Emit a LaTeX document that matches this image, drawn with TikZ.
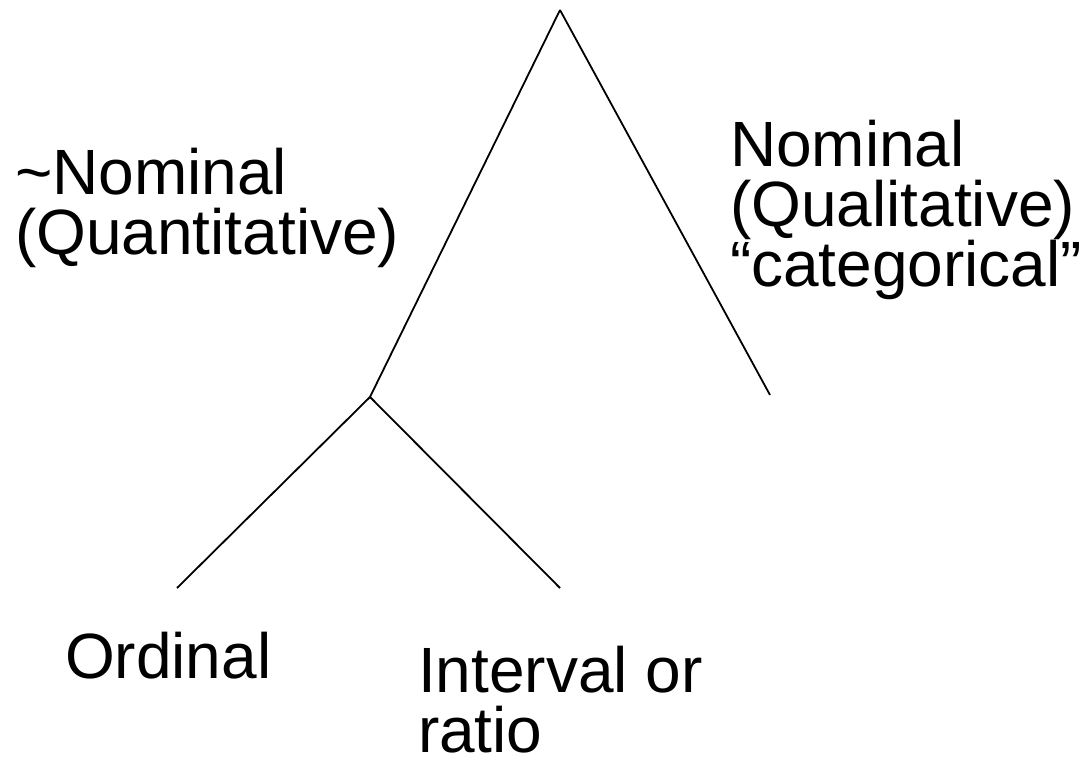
\documentclass[tikz,border=0pt]{standalone}
\usepackage{fontspec}
\setmainfont{Liberation Sans}
\begin{document}
\begin{tikzpicture}[x=1pt,y=-1pt,
  branch/.style={line width=1.8pt,black},
  lbl/.style={font=\fontsize{64}{60}\selectfont,inner sep=0pt,outer sep=0pt,align=left,anchor=base west}]
\useasboundingbox (0,0) rectangle (1084,759);
\coordinate (top) at (560,10);
\coordinate (mid) at (370,397);
\coordinate (rend) at (770,395);
\coordinate (bl) at (177,588);
\coordinate (br) at (560,588);
\draw[branch] (top) -- (mid);
\draw[branch] (top) -- (rend);
\draw[branch] (mid) -- (bl);
\draw[branch] (mid) -- (br);
\node[lbl] (quant) at (15,255) {\textasciitilde Nominal\\(Quantitative)};
\node[lbl] (qual) at (730,287) {Nominal\\(Qualitative)\\“categorical”};
\node[lbl] (ord) at (65,678) {Ordinal};
\node[lbl] (intv) at (418,752) {Interval or\\ratio};
\end{tikzpicture}
\end{document}
